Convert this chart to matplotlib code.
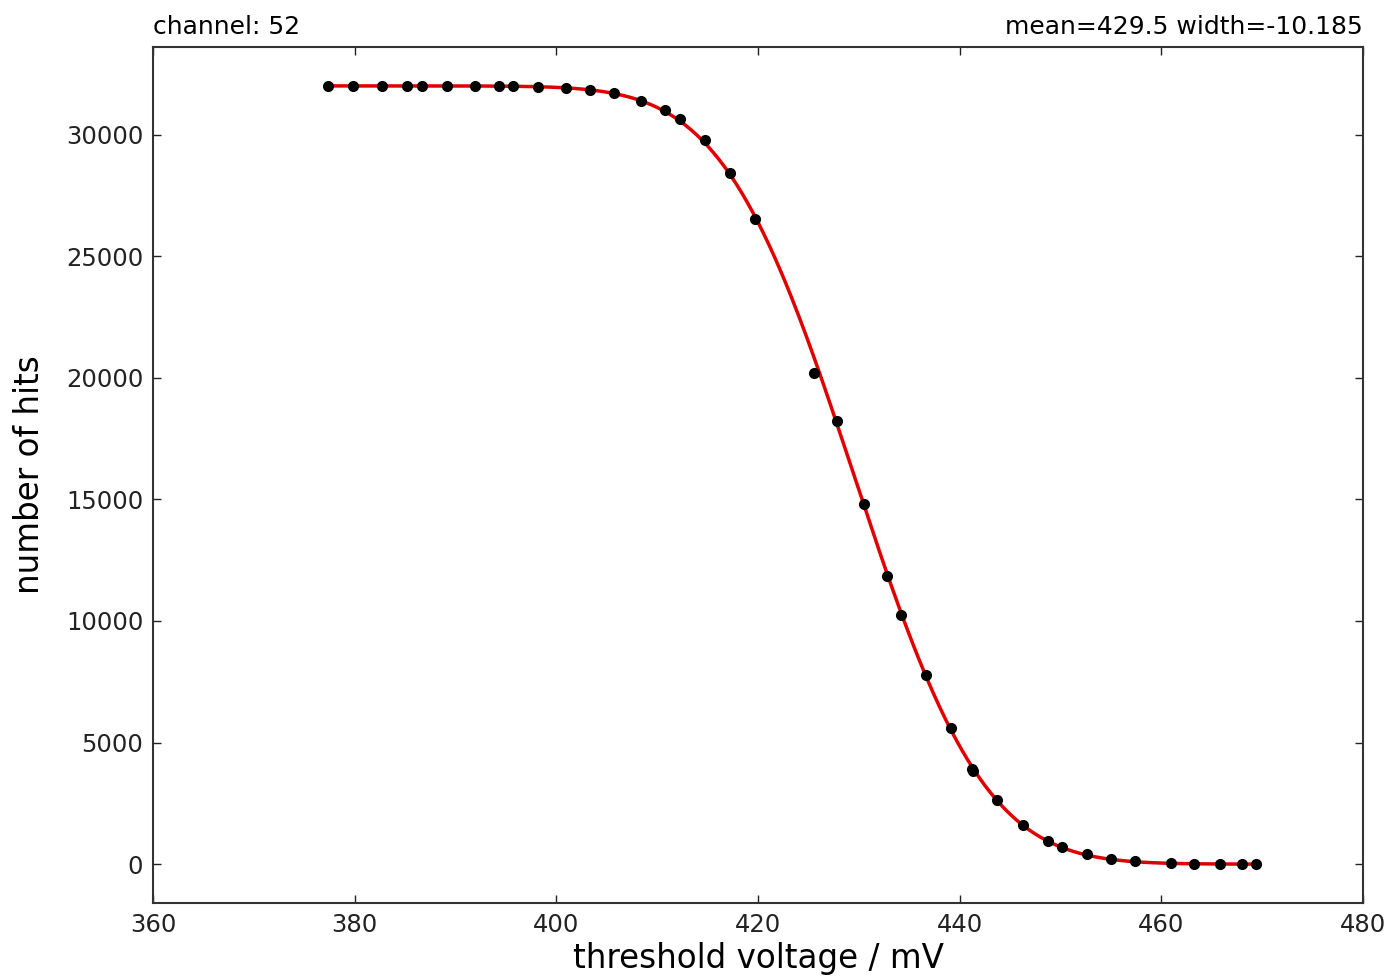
import math
import numpy as np
import matplotlib
matplotlib.use("Agg")
import matplotlib.pyplot as plt

# data points
voltage = [377.4, 379.8, 382.7, 385.2, 386.7, 389.2, 391.9, 394.3, 395.7, 398.2,
           401.0, 403.3, 405.7, 408.4, 410.8, 412.3, 414.7, 417.2, 419.7, 425.5,
           427.8, 430.5, 432.8, 434.2, 436.6, 439.1, 441.2, 441.3, 443.7, 446.3,
           448.7, 450.1, 452.6, 455.0, 457.4, 460.9, 463.2, 465.8, 468.0, 469.4]
hits = [32000, 32000, 32000, 32000, 32000, 32000, 32000, 32000, 32000, 31970,
        31930, 31830, 31700, 31380, 31000, 30650, 29780, 28420, 26520, 20180,
        18220, 14820, 11850, 10260, 7760, 5580, 3930, 3820, 2620, 1620,
        960, 720, 430, 220, 130, 50, 25, 12, 6, 3]

# fit parameters shown in the title
amplitude = 32000
mean = 429.5
width = -10.185
channel = 52

xticks = [360, 380, 400, 420, 440, 460, 480]
yticks = [0, 5000, 10000, 15000, 20000, 25000, 30000]

fig = plt.figure(figsize=(13.91, 9.77), dpi=100)
ax = fig.add_axes([0.110, 0.0757, 0.870, 0.8762])

xf = np.linspace(min(voltage), max(voltage), 500)
yf = np.array([amplitude / 2 * (1 + math.erf((x - mean) / (width * math.sqrt(2)))) for x in xf])
ax.plot(xf, yf, color="#e00000", lw=2.5, zorder=2)
ax.plot(voltage, hits, "o", color="black", ms=7, zorder=3)

ax.set_xlim(360, 480)
ax.set_ylim(-1600, 33600)
ax.set_xticks(xticks)
ax.set_yticks(yticks)
ax.tick_params(direction="in", length=6, width=1, top=True, right=True,
               labelsize=17.5, pad=7, colors="#222222")
for s in ax.spines.values():
    s.set_linewidth(1.5)
    s.set_color("#333333")

ax.set_xlabel("threshold voltage / mV", fontsize=23.5, labelpad=4)
ax.set_ylabel("number of hits", fontsize=23.5, labelpad=14)
ax.set_title(f"channel: {channel}", loc="left", fontsize=18, pad=9)
ax.set_title(f"mean={mean} width={width}", loc="right", fontsize=18, pad=9)

fig.savefig("out.png", dpi=100)
